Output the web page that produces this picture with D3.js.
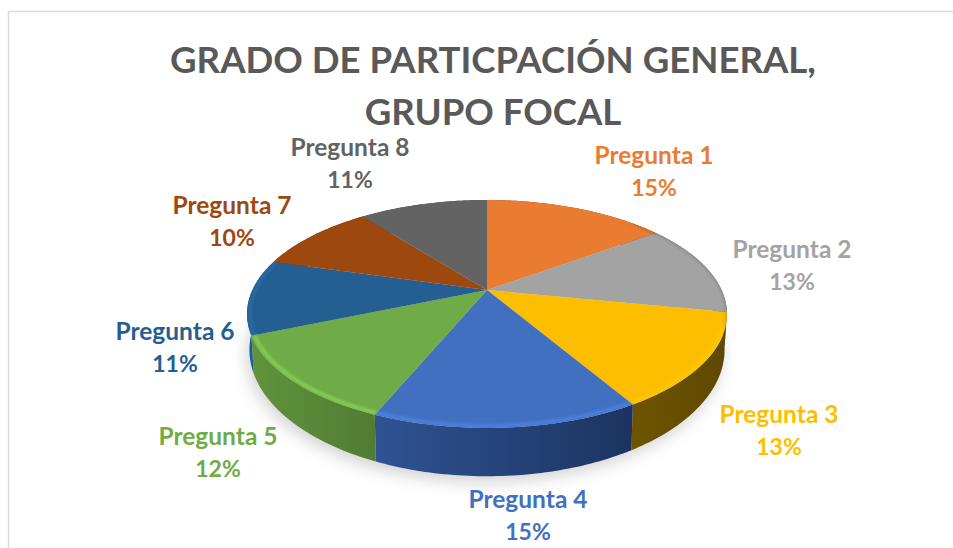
<!DOCTYPE html>
<html><head><meta charset="utf-8">
<script src="https://cdn.jsdelivr.net/npm/d3@7/dist/d3.min.js"></script>
<style>html,body{margin:0;background:#fff}svg{display:block}</style></head>
<body><svg id="c" width="953" height="548"></svg>
<script>
(function(){
const titleLines = ["GRADO DE PARTICPACIÓN GENERAL,", "GRUPO FOCAL"];
const categories = ["Pregunta 1","Pregunta 2","Pregunta 3","Pregunta 4","Pregunta 5","Pregunta 6","Pregunta 7","Pregunta 8"];
const shares = [15, 13.1, 13.4, 14.8, 12.4, 10.7, 10, 10.6];
const colors = ["#ea7c31","#a3a3a3","#fdbe00","#4270c0","#6fab46","#255e91","#9c480e","#636363"];
const wallLeft  = ["#7a4019","#555555","#6e5400","#2f5393","#5f943c","#1f5f9a","#6b320b","#444444"];
const wallRight = ["#7a4019","#555555","#5f4800","#1c3360","#527c33","#1c4a74","#6b320b","#444444"];
const bevelStrength = [0,0,0.2,0.6,0.8,0.5,0,0];
const labelCentres = [[654,156],[792,250],[779,415],[528,500],[218,437],[175,332],[232,206],[350,148]];

const W = 953, cx = 487, cy = 290;
const R = 234.6, RY = 108.9, K = -0.2105;
const svg = d3.select("#c");
const defs = svg.append("defs");
defs.append("filter").attr("id","soft").attr("x","-20%").attr("y","-20%").attr("width","140%").attr("height","140%")
  .append("feGaussianBlur").attr("stdDeviation",8);
defs.append("filter").attr("id","bev").attr("filterUnits","userSpaceOnUse").attr("x",0).attr("y",0).attr("width",953).attr("height",548)
  .append("feGaussianBlur").attr("stdDeviation",1.8);

svg.append("path").attr("d",`M8.5 548V11.5H${W}`).attr("fill","none").attr("stroke","#dcdcdc").attr("stroke-width",1.6);

const pie = d3.pie().sort(null).value(d=>d).startAngle(0).endAngle(2*Math.PI);
const arcs = pie(shares);

function topPt(t, r=1){ const X=r*Math.sin(t), Y=-r*Math.cos(t), w=1+K*Y;
  return [cx+R*X/w, cy+RY*Y/w]; }
function botPt(t){ const [x,y]=topPt(t); return [cx+(x-cx)*0.99, cy+33+(y-cy)*1.111]; }
function sample(a,b,f,r){ const n=Math.max(6,Math.ceil((b-a)*60)); return d3.range(n+1).map(i=>f(a+(b-a)*i/n,r)); }
const line = d3.line().curve(d3.curveLinear);

const shadowPts = sample(0,2*Math.PI,botPt);
svg.append("path").attr("d",line(shadowPts)+"Z").attr("fill","#a8a8a8").attr("opacity",.5)
  .attr("filter","url(#soft)").attr("transform","translate(-3,6)");

arcs.forEach((a,i)=>{
  const id="w"+i;
  const tp=sample(a.startAngle,a.endAngle,topPt), bt=sample(a.startAngle,a.endAngle,botPt);
  const xs=tp.map(p=>p[0]);
  const g=defs.append("linearGradient").attr("id",id).attr("gradientUnits","userSpaceOnUse")
    .attr("x1",d3.min(xs)).attr("x2",d3.max(xs)).attr("y1",0).attr("y2",0);
  g.append("stop").attr("offset",0).attr("stop-color",wallLeft[i]);
  g.append("stop").attr("offset",1).attr("stop-color",wallRight[i]);
  svg.append("path").attr("d",line(tp.concat(bt.reverse()))+"Z").attr("fill",`url(#${id})`);
});

arcs.forEach((a,i)=>{
  const pts=[[cx,cy]].concat(sample(a.startAngle,a.endAngle,topPt));
  svg.append("path").attr("d",line(pts)+"Z").attr("fill",colors[i]);
});

const clip=defs.append("clipPath").attr("id","disc");
clip.append("path").attr("d",line(sample(0,2*Math.PI,topPt))+"Z");
const bevel=svg.append("g").attr("clip-path","url(#disc)");
const frontStart=Math.PI*0.6, frontEnd=Math.PI*1.6;
arcs.forEach((a,i)=>{
  const s=Math.max(a.startAngle,frontStart), e=Math.min(a.endAngle,frontEnd);
  if(s<e && bevelStrength[i]>0){
    bevel.append("path").attr("d",line(sample(s,e,topPt,0.988))).attr("fill","none")
      .attr("stroke",d3.color(colors[i]).brighter(.7)).attr("stroke-width",3.5)
      .attr("opacity",bevelStrength[i]).attr("filter","url(#bev)");
  }
  const ss=Math.max(a.startAngle,0.25*Math.PI), ee=Math.min(a.endAngle,0.6*Math.PI);
  if(ss<ee){
    bevel.append("path").attr("d",line(sample(ss,ee,topPt,1))).attr("fill","none")
      .attr("stroke",d3.color(colors[i]).darker(.8)).attr("stroke-width",2.5).attr("opacity",.7).attr("filter","url(#bev)");
  }
});

const font="Lato, 'Open Sans', sans-serif";
svg.append("g").selectAll("text").data(titleLines).join("text")
  .attr("x",493).attr("y",(d,i)=>73+i*52).attr("text-anchor","middle")
  .attr("font-family",font).attr("font-weight",700).attr("font-size",36.6).attr("fill","#595959").text(d=>d);

const total=d3.sum(shares), pct=d3.format(".0%");
const lab=svg.append("g").selectAll("g").data(categories).join("g")
  .attr("transform",(d,i)=>`translate(${labelCentres[i][0]},${labelCentres[i][1]})`)
  .attr("font-family",font).attr("font-weight",700).attr("text-anchor","middle")
  .attr("fill",(d,i)=>colors[i]);
lab.append("text").attr("y",8).attr("font-size",24.5).text(d=>d);
lab.append("text").attr("y",40).attr("font-size",23).text((d,i)=>pct(shares[i]/total));
})();
</script></body></html>
